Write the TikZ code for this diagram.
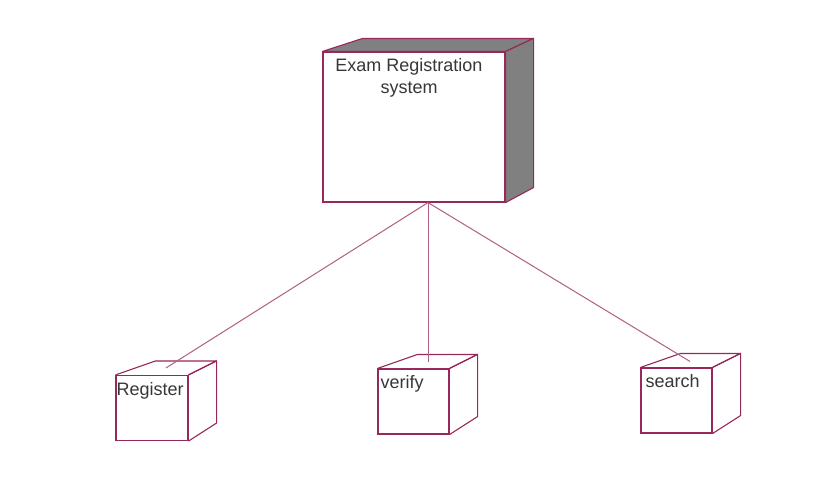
\documentclass[tikz,border=0pt]{standalone}
\usepackage{fontspec}
\setmainfont{Liberation Sans}
\usetikzlibrary{calc}
\definecolor{wire}{RGB}{150,40,90}
\definecolor{shade}{RGB}{128,128,128}
\definecolor{ink}{RGB}{55,55,55}
\tikzset{
    device/.style = {draw=wire, rectangle, fill=white, line width=1.1pt, inner sep=0pt},
    face/.style = {draw=wire, line width=1.1pt, line join=round},
    link/.style = {draw=wire!75, line width=1pt},
    tag/.style = {anchor=north west, inner sep=2pt, text=ink}
}
% top and right faces of a small device box
\newcommand{\cubefaces}[1]{%
    \draw [face] (#1.north west) -- ++(40,-14) -- ($(#1.north east)+(28,-14)$) -- (#1.north east);
    \draw [face] (#1.north east) -- ++(28,-14) -- ($(#1.south east)+(28,-18)$) -- (#1.south east);
}

\begin{document}
\begin{tikzpicture}[x=1pt, y=-1pt, font=\fontsize{18}{22}\selectfont]
    \useasboundingbox (0,0) rectangle (830,501);
    % main system box
    \node [device, minimum width=182pt, minimum height=150pt] (sys) at (414,127) {};
    \draw [face, fill=shade] (sys.north west) -- ++(40,-13) -- ($(sys.north east)+(28,-13)$) -- (sys.north east) -- cycle;
    \draw [face, fill=shade] (sys.north east) -- ++(28,-13) -- ($(sys.south east)+(28,-15)$) -- (sys.south east) -- cycle;
    \node [anchor=north, align=center, inner sep=3pt, text=ink] (systext) at ($(sys.north)+(-5,4)$) {Exam Registration\\system};
    % small boxes
    \node [device, minimum width=72pt, minimum height=65pt] (reg) at (152,408) {};
    \node [device, minimum width=71pt, minimum height=65pt] (ver) at (413.5,401.5) {};
    \node [device, minimum width=71pt, minimum height=65pt] (sea) at (676.5,400.5) {};
    \cubefaces{reg}
    \cubefaces{ver}
    \cubefaces{sea}
    \node [tag] (regtext) at ($(reg.north west)+(-1,5)$) {Register};
    \node [tag] (vertext) at ($(ver.north west)+(1,5)$) {verify};
    \node [tag] (seatext) at ($(sea.north west)+(3,5)$) {search};
    % connectors
    \coordinate (sysfoot) at ($(sys.south)+(14,0)$);
    \coordinate (regtop) at ($(reg.north)+(14,-7)$);
    \coordinate (vertop) at ($(ver.north)+(14.5,-6)$);
    \coordinate (seatop) at ($(sea.north)+(13.5,-6)$);
    \draw [link] (sysfoot) -- (regtop);
    \draw [link] (sysfoot) -- (vertop);
    \draw [link] (sysfoot) -- (seatop);
\end{tikzpicture}
\end{document}
